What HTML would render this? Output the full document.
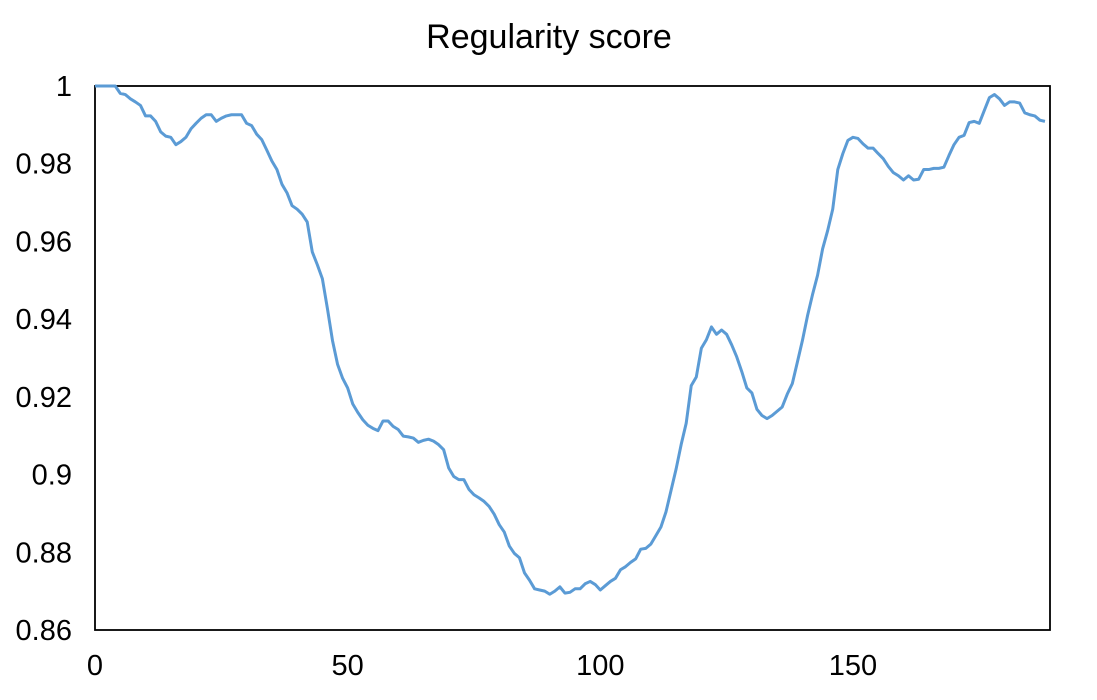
<!DOCTYPE html>
<html><head><meta charset="utf-8"><style>
html,body{margin:0;padding:0;background:#fff;}
svg text{font-family:"Liberation Sans",Arial,sans-serif;fill:#000;}
</style></head><body>
<svg id="chart" width="1097" height="695" xmlns="http://www.w3.org/2000/svg">
<text x="549" y="48" font-size="34" text-anchor="middle">Regularity score</text>
<g id="yticks"></g>
<g id="xticks"></g>
<rect x="95" y="86" width="955" height="544" fill="none" stroke="#000" stroke-width="1.8"/>
<path id="line" fill="none" stroke="#5b9bd5" stroke-width="3" stroke-linejoin="round"/>
</svg>
<script>
const scores = [1,1,1,1,1,.9981,.9978,.9967,.9959,.9950,.9923,.9923,.9909,.9882,.9871,.9868,.9849,.9857,.9868,.9890,
.9904,.9917,.9926,.9926,.9909,.9917,.9923,.9926,.9926,.9926,.9904,.9898,.9876,.9862,.9835,.9807,.9785,.9747,.9725,.9692,
.9683,.9670,.9650,.9573,.9540,.9504,.9427,.9345,.9284,.9248,.9223,.9182,.9160,.9141,.9127,.9119,.9113,.9138,.9138,.9124,
.9116,.9099,.9097,.9094,.9083,.9088,.9091,.9086,.9077,.9064,.9017,.8995,.8987,.8987,.8962,.8948,.8940,.8931,.8918,.8898,
.8871,.8852,.8816,.8797,.8786,.8747,.8728,.8706,.8703,.8700,.8692,.8700,.8711,.8695,.8697,.8706,.8706,.8719,.8725,.8717,
.8703,.8714,.8725,.8733,.8755,.8763,.8774,.8783,.8808,.8810,.8821,.8843,.8865,.8904,.8959,.9014,.9077,.9132,.9229,.9251,
.9325,.9347,.9380,.9361,.9372,.9361,.9334,.9303,.9265,.9223,.9210,.9168,.9152,.9144,.9152,.9163,.9174,.9207,.9234,.9289,
.9345,.9408,.9463,.9513,.9581,.9628,.9683,.9785,.9826,.9860,.9868,.9865,.9851,.9840,.9840,.9826,.9813,.9793,.9777,.9769,
.9758,.9769,.9758,.9760,.9785,.9785,.9788,.9788,.9791,.9821,.9849,.9868,.9873,.9906,.9909,.9904,.9937,.9970,.9978,.9967,
.9950,.9959,.9959,.9956,.9931,.9926,.9923,.9912,.9909];
const yTickValues = [0.86,0.88,0.9,0.92,0.94,0.96,0.98,1];
const yTickLabels = ["0.86","0.88","0.9","0.92","0.94","0.96","0.98","1"];
const xTickValues = [0,50,100,150];
const xTickLabels = ["0","50","100","150"];
const xMin=0,xMax=189,yMin=0.86,yMax=1;
const L=95,R=1050,T=86,B=630;
function xs(v){return L+(v-xMin)/(xMax-xMin)*(R-L);}
function ys(v){return B-(v-yMin)/(yMax-yMin)*(B-T);}
const NS="http://www.w3.org/2000/svg";
const yg=document.getElementById('yticks');
yTickValues.forEach((v,i)=>{
  const t=document.createElementNS(NS,'text');
  
  
  t.setAttribute('x',72);t.setAttribute('y',ys(v)+10);
  t.setAttribute('font-size','29');t.setAttribute('text-anchor','end');
  t.textContent=yTickLabels[i];yg.appendChild(t);
});
const xg=document.getElementById('xticks');
xTickValues.forEach((v,i)=>{
  const t=document.createElementNS(NS,'text');
  
  
  t.setAttribute('x',xs(v));t.setAttribute('y',675);
  t.setAttribute('font-size','29');t.setAttribute('text-anchor','middle');
  t.textContent=xTickLabels[i];xg.appendChild(t);
});
let d='';
scores.forEach((v,i)=>{d+=(i?'L':'M')+xs(i).toFixed(2)+','+ys(v).toFixed(2);});
document.getElementById('line').setAttribute('d',d);
</script>
</body></html>
